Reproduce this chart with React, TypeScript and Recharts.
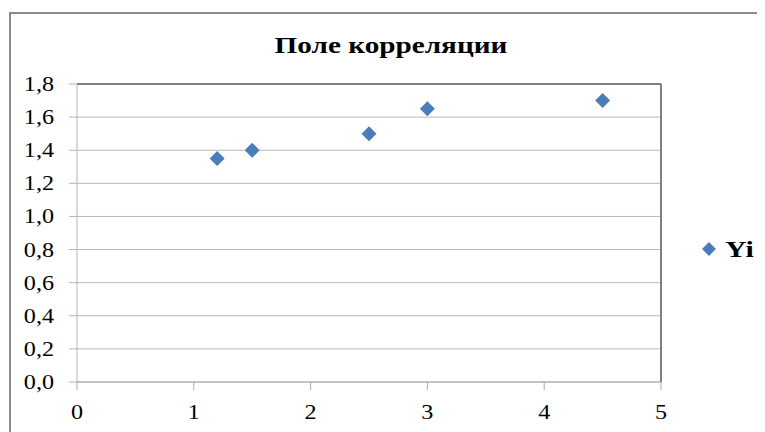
import React from 'react';
import { ScatterChart, Scatter, XAxis, YAxis, CartesianGrid, ReferenceLine, Legend } from 'recharts';

const title = 'Поле корреляции';
const seriesName = 'Yi';
const xValues = [1.2, 1.5, 2.5, 3, 4.5];
const yValues = [1.35, 1.4, 1.5, 1.65, 1.7];
const xTicks = [0, 1, 2, 3, 4, 5];
const yTicks = [0, 0.2, 0.4, 0.6, 0.8, 1.0, 1.2, 1.4, 1.6, 1.8];

const COLOR = '#4A7EBB';
const FONT = 'Liberation Serif';

const data = xValues.map((x, i) => ({ x, y: yValues[i] }));

const fmtY = (v: number) => v.toFixed(1).replace('.', ',');

const Diamond = (props: any) => {
  const { cx, cy } = props;
  if (cx == null || cy == null) return null;
  return (
    <polygon
      points={`${cx},${cy - 7.5} ${cx + 7.5},${cy} ${cx},${cy + 7.5} ${cx - 7.5},${cy}`}
      fill={COLOR}
    />
  );
};

const YTick = (props: any) => {
  const { x, y, payload } = props;
  return (
    <text
      x={0}
      y={0}
      transform={`translate(${x - 15},${y}) scale(1.15,1)`}
      textAnchor="end"
      dominantBaseline="central"
      fontFamily={FONT}
      fontSize={21}
      fill="#000"
    >
      {fmtY(payload.value)}
    </text>
  );
};

const XTick = (props: any) => {
  const { x, y, payload } = props;
  return (
    <text
      x={0}
      y={0}
      transform={`translate(${x},${y + 22}) scale(1.15,1)`}
      textAnchor="middle"
      dominantBaseline="central"
      fontFamily={FONT}
      fontSize={21}
      fill="#000"
    >
      {String(payload.value)}
    </text>
  );
};

const LegendContent = () => (
  <svg width={70} height={26} style={{ display: 'block' }}>
    <polygon points="8,5 15,12 8,19 1,12" fill={COLOR} />
    <text
      x={0}
      y={0}
      transform="translate(24,12) scale(1.3,1)"
      dominantBaseline="central"
      fontFamily={FONT}
      fontWeight="bold"
      fontSize={23}
      fill="#000"
    >
      {seriesName}
    </text>
  </svg>
);

export default function App() {
  return (
    <div style={{ position: 'relative', width: 757, height: 424, fontFamily: FONT }}>
      <div
        style={{
          position: 'absolute',
          left: 1,
          top: 4,
          width: 756,
          height: 420,
          borderLeft: '2px solid #8c8c8c',
          borderTop: '2px solid #8c8c8c',
          boxSizing: 'border-box',
        }}
      />
      <div
        style={{
          position: 'absolute',
          left: 183,
          top: 26,
          width: 400,
          textAlign: 'center',
          fontFamily: FONT,
          fontWeight: 'bold',
          fontSize: 23,
          lineHeight: 1,
          transform: 'scaleX(1.27)',
          transformOrigin: '50% 50%',
          whiteSpace: 'nowrap',
        }}
      >
        {title}
      </div>
      <ScatterChart
        width={757}
        height={424}
        margin={{ top: 76, right: 104, bottom: 0, left: 0 }}
        style={{ position: 'absolute', left: 0, top: 0 }}
      >
        <CartesianGrid vertical={false} stroke="#b9b9b9" />
        <XAxis
          type="number"
          dataKey="x"
          domain={[0, 5]}
          ticks={xTicks}
          height={50}
          tick={<XTick />}
          tickSize={8}
          tickMargin={0}
          stroke="#a9a9a9"
          allowDataOverflow
        />
        <YAxis
          type="number"
          dataKey="y"
          domain={[0, 1.8]}
          ticks={yTicks}
          width={69}
          tick={<YTick />}
          tickSize={8}
          tickMargin={0}
          stroke="#b5b5b5"
          allowDataOverflow
        />
        <ReferenceLine y={1.8} stroke="#7f7f7f" strokeWidth={2} />
        <ReferenceLine x={5} stroke="#7f7f7f" strokeWidth={2} />
        <Legend
          layout="vertical"
          align="center"
          verticalAlign="middle"
          content={<LegendContent />}
          wrapperStyle={{ position: 'absolute', left: 693, top: 229, width: 70, height: 26 }}
        />
        <Scatter
          name={seriesName}
          data={data}
          fill={COLOR}
          shape={<Diamond />}
          isAnimationActive={false}
        />
      </ScatterChart>
    </div>
  );
}
